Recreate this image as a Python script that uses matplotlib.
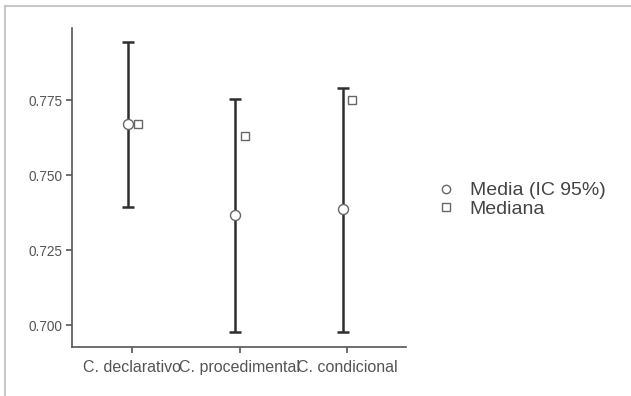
import numpy as np
import matplotlib
matplotlib.use('Agg')
import matplotlib.pyplot as plt
from matplotlib.lines import Line2D

# ─── Data ─────────────────────────────────────────────────────────────────────
categories = ['C. declarativo', 'C. procedimental', 'C. condicional']
media      = [0.767, 0.7367, 0.7387]
ci_low     = [0.7393, 0.6977, 0.6977]
ci_high    = [0.7943, 0.7753, 0.779]
mediana    = [0.767, 0.763, 0.775]
yticks     = [0.700, 0.725, 0.750, 0.775]

plt.rcParams['font.family'] = ['Liberation Sans', 'DejaVu Sans']

TXT   = '#555555'
BAR   = '#2e2e2e'
EDGE  = '#666666'

fig = plt.figure(figsize=(6.31, 3.96), dpi=100)
ax = fig.add_axes([0.1141, 0.1237, 0.5293, 0.8056])

x = np.arange(len(categories))
m = np.array(media)
err = [m - np.array(ci_low), np.array(ci_high) - m]

ax.errorbar(x - 0.04, m, yerr=err, fmt='none', ecolor=BAR, elinewidth=1.8,
            capsize=4, capthick=1.8, zorder=2)
ax.plot(x - 0.04, m, 'o', ms=7.2, mfc='white', mec=EDGE, mew=1.0, zorder=3)
ax.plot(x + 0.05, mediana, 's', ms=5.6, mfc='white', mec=EDGE, mew=1.0, zorder=3)

ax.set_xlim(-0.56, 2.55)
ax.set_ylim(0.6927, 0.799)
ax.set_xticks(x)
ax.set_xticklabels(categories, fontsize=11.5, color=TXT)
ax.set_yticks(yticks)
ax.set_yticklabels([f'{v:.3f}' for v in yticks], fontsize=9.8, color=TXT)

for s in ['top', 'right']:
    ax.spines[s].set_visible(False)
for s in ['left', 'bottom']:
    ax.spines[s].set_color('#555555')
    ax.spines[s].set_linewidth(1.2)
ax.tick_params(axis='both', direction='out', length=4, width=1.2, color='#555555')
ax.tick_params(axis='x', pad=5)
ax.tick_params(axis='y', pad=3)

handles = [
    Line2D([], [], ls='none', marker='o', ms=6, mfc='white', mec=EDGE, mew=1.0),
    Line2D([], [], ls='none', marker='s', ms=5.4, mfc='white', mec=EDGE, mew=1.0),
]
leg = fig.legend(handles, ['Media (IC 95%)', 'Mediana'], loc='center left',
                 bbox_to_anchor=(0.698, 0.495), frameon=False, fontsize=14,
                 handlelength=0.6, handletextpad=0.9, labelspacing=0.05,
                 borderaxespad=0, borderpad=0)
for t in leg.get_texts():
    t.set_color('#444444')

# light frame along top and left edges
fig.add_artist(Line2D([0.008, 1.0], [0.985, 0.985], color='#c8c8c8', lw=1.5,
                      transform=fig.transFigure))
fig.add_artist(Line2D([0.008, 0.008], [0.0, 0.985], color='#c8c8c8', lw=1.5,
                      transform=fig.transFigure))

fig.savefig('out.png', dpi=100)
